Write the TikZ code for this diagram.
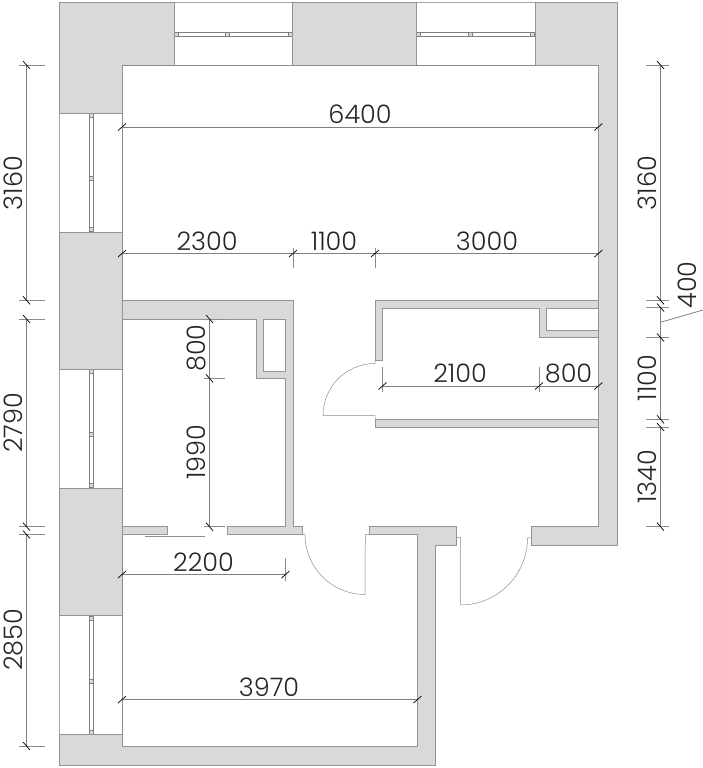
\documentclass[tikz,border=0pt]{standalone}
\usepackage{fontspec}
\newfontfamily\dimfont{Poppins Light}
\tikzset{
	wall/.style={draw=black!42, fill=black!15, line width=0.7pt},
	hole/.style={draw=black!42, fill=white, line width=0.7pt},
	opening/.style={draw=black!35, fill=white, line width=0.5pt},
	sash/.style={draw=black!50, fill=white, line width=0.5pt},
	sashbit/.style={draw=black!50, fill=black!15, line width=0.4pt},
	door/.style={draw=black!45, line width=0.5pt},
	dimline/.style={draw=black!50, line width=0.8pt},
	dimext/.style={draw=black!45, line width=0.6pt},
	dimtick/.style={draw=black, line width=0.7pt},
	dimtext/.style={font=\dimfont\fontsize{25.5}{26}\selectfont, text=black!85, inner sep=0pt},
}
\begin{document}
\begin{tikzpicture}[x=1pt, y=-1pt]
	\useasboundingbox (0,0) rectangle (703,768);

	% windows
	\draw[opening] (174,2.5) rectangle (292.5,65);
	\draw[opening] (416,2.5) rectangle (535,65);
	\draw[opening] (59,113) rectangle (122,232);
	\draw[opening] (59,369) rectangle (122,488);
	\draw[opening] (59,615.7) rectangle (122,734.5);
	\foreach \x/\m in {174/225, 416/468}{
		\draw[sash] (\x,32.5) rectangle ++(118.5,4);
		\draw[sashbit] (\x,32.5) rectangle ++(4,4);
		\draw[sashbit] (\m,32.5) rectangle ++(4,4);
		\draw[sashbit] (\x+114.5,32.5) rectangle ++(4,4);
	}
	\foreach \y in {113, 369, 615.7}{
		\draw[sash] (89.5,\y) rectangle ++(4,118.5);
		\draw[sashbit] (89.5,\y) rectangle ++(4,4);
		\draw[sashbit] (89.5,\y+63) rectangle ++(4,4);
		\draw[sashbit] (89.5,\y+114.5) rectangle ++(4,4);
	}

	% outer walls
	\draw[wall] (59,2.5) -- (174,2.5) -- (174,65) -- (122,65) -- (122,113) -- (59,113) -- cycle;
	\draw[wall] (292.5,2.5) rectangle (416,65);
	\draw[wall] (535,2.5) -- (617,2.5) -- (617,545.5) -- (531,545.5) -- (531,526.7) -- (598.4,526.7) -- (598.4,65) -- (535,65) -- cycle;
	\draw[wall] (59,232) rectangle (122,369);
	\draw[wall] (59,488) rectangle (122,615.7);
	\draw[wall] (59,734.5) -- (122,734.5) -- (122,746.5) -- (417.5,746.5) -- (417.5,534.5) -- (369.3,534.5) -- (369.3,526.7) -- (456.5,526.7) -- (456.5,545.5) -- (435.7,545.5) -- (435.7,765) -- (59,765) -- cycle;
	\draw[door] (122,65) -- (535,65);
	\draw[door] (122,113) -- (122,734.5);

	% inner walls
	\draw[wall] (122,300.3) -- (293.3,300.3) -- (293.3,526.7) -- (302,526.7) -- (302,534.5) -- (227.5,534.5) -- (227.5,526.7) -- (285.5,526.7) -- (285.5,378.3) -- (256,378.3) -- (256,319) -- (122,319) -- cycle;
	\draw[hole] (263,319) rectangle (285.5,371);
	\draw[wall] (122,526.7) rectangle (167.5,534.5);
	\draw[wall] (375,300.3) -- (598.4,300.3) -- (598.4,337.5) -- (539,337.5) -- (539,308) -- (382.5,308) -- (382.5,360) -- (375,360) -- cycle;
	\draw[hole] (546,308) rectangle (598.4,330);
	\draw[wall] (375,419.3) rectangle (598.4,427);

	% doors
	\draw[door] (302,534.5) -- (305,534.5) arc[start angle=180, end angle=270, radius=60pt] -- (365.3,534.5) -- (369.3,534.5);
	\draw[door] (456.5,537.5) -- (460.5,537.5) -- (460.5,605) arc[start angle=270, end angle=360, radius=67pt] -- (531,537.5);
	\draw[door] (375,360) -- (375,363.5) arc[start angle=90, end angle=180, radius=52pt] -- (375,415.5) -- (375,419.3);
	\draw[door] (145,536) -- (205,536);

	% dimension points
	\coordinate (top1) at (122,127);
	\coordinate (top2) at (598.4,127);
	\coordinate (mid1) at (122,253.5);
	\coordinate (mid2) at (293,253.5);
	\coordinate (mid3) at (375,253.5);
	\coordinate (mid4) at (598.4,253.5);
	\coordinate (cl1) at (382.5,386);
	\coordinate (cl2) at (539,386);
	\coordinate (cl3) at (598.4,386);
	\coordinate (low1) at (122,574.5);
	\coordinate (low2) at (285.5,574.5);
	\coordinate (bot1) at (122,699.5);
	\coordinate (bot2) at (417.5,699.5);
	\coordinate (ba1) at (209.5,319);
	\coordinate (ba2) at (209.5,378.3);
	\coordinate (ba3) at (209.5,526.7);
	\coordinate (le1) at (26.5,65);
	\coordinate (le2) at (26.5,300.3);
	\coordinate (le3) at (26.5,319);
	\coordinate (le4) at (26.5,526.7);
	\coordinate (le5) at (26.5,534.5);
	\coordinate (le6) at (26.5,746);
	\coordinate (ri1) at (660.5,65);
	\coordinate (ri2) at (660.5,300.3);
	\coordinate (ri3) at (660.5,307.5);
	\coordinate (ri4) at (660.5,337.5);
	\coordinate (ri5) at (660.5,419.3);
	\coordinate (ri6) at (660.5,427);
	\coordinate (ri7) at (660.5,526.7);
	\coordinate (lead1) at (660.5,322.3);
	\coordinate (lead2) at (703,310);

	% dimension lines
	\draw[dimline] (top1) -- (top2);
	\draw[dimline] (mid1) -- (mid4);
	\draw[dimline] (cl1) -- (cl3);
	\draw[dimline] (low1) -- (low2);
	\draw[dimline] (bot1) -- (bot2);
	\draw[dimline] (ba1) -- (ba3);
	\draw[dimline] (le1) -- (le2);
	\draw[dimline] (le3) -- (le4);
	\draw[dimline] (le5) -- (le6);
	\draw[dimline] (ri1) -- (ri2);
	\draw[dimline] (ri3) -- (ri5);
	\draw[dimline] (ri6) -- (ri7);
	\draw[dimline] (lead1) -- (lead2);

	% extensions
	\foreach \n in {mid2, mid3}
		\draw[dimext] (\n) ++(0,-6) -- ++(0,20);
	\foreach \n in {cl1, cl2}
		\draw[dimext] (\n) ++(0,-19) -- ++(0,25);
	\draw[dimext] (low2) ++(0,-17) -- ++(0,23);
	\foreach \n in {ba1, ba2, ba3}
		\draw[dimext] (\n) ++(-6,0) -- ++(21,0);
	\foreach \n in {le1, le2, le3, le4, le5, le6}
		\draw[dimext] (\n) ++(-7.5,0) -- ++(26,0);
	\foreach \n in {ri1, ri2, ri3, ri4, ri5, ri6, ri7}
		\draw[dimext] (\n) ++(-15,0) -- ++(23,0);

	% ticks
	\foreach \n in {top1, top2, mid1, mid2, mid3, mid4, cl1, cl2, cl3, low1, low2, bot1, bot2}
		\draw[dimtick] (\n) ++(-4,3.5) -- ++(8,-7);
	\foreach \n in {ba1, ba2, ba3, le1, le2, le3, le4, le5, le6, ri1, ri2, ri3, ri4, ri5, ri6, ri7}
		\draw[dimtick] (\n) ++(-3.5,-4) -- ++(7,8);

	% labels
	\node[dimtext] (t6400) at (360,114) {6400};
	\node[dimtext] (t2300) at (207,241) {2300};
	\node[dimtext] (t1100) at (334,241) {1100};
	\node[dimtext] (t3000) at (487,241) {3000};
	\node[dimtext] (t2100) at (460,373) {2100};
	\node[dimtext] (t800) at (568.5,373) {800};
	\node[dimtext] (t2200) at (203.5,562) {2200};
	\node[dimtext] (t3970) at (269,687) {3970};
	\node[dimtext, rotate=90] (v800) at (196,348) {800};
	\node[dimtext, rotate=90] (v1990) at (196,452) {1990};
	\node[dimtext, rotate=90] (l3160) at (13.5,183) {3160};
	\node[dimtext, rotate=90] (l2790) at (13.5,423) {2790};
	\node[dimtext, rotate=90] (l2850) at (13.5,640) {2850};
	\node[dimtext, rotate=90] (r3160) at (647.5,183) {3160};
	\node[dimtext, rotate=90] (r1100) at (647.5,378) {1100};
	\node[dimtext, rotate=90] (r1340) at (647.5,477) {1340};
	\node[dimtext, rotate=90] (r400) at (687.5,285) {400};
\end{tikzpicture}
\end{document}
